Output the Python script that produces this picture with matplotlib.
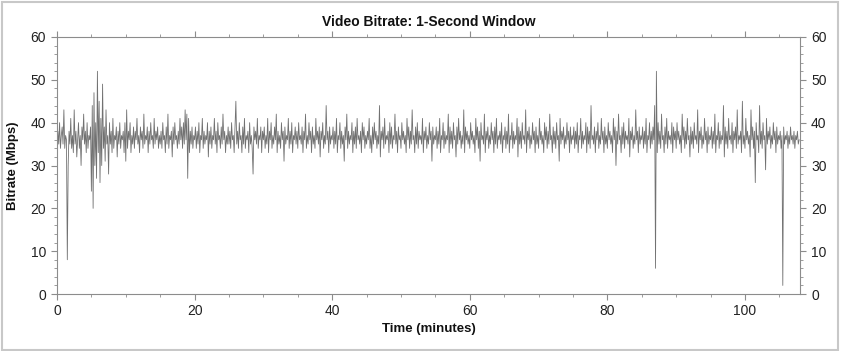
import numpy as np
import matplotlib
matplotlib.use('Agg')
from matplotlib import pyplot as plt
from matplotlib.patches import Rectangle
from matplotlib.ticker import MultipleLocator

# bitrate (Mbps), one value every 0.125 min, rows of 5 minutes
bitrate = [
    36,38,35,40,34,37,39,35,43,34,37,36,8,30,38,35,41,34,37,33,43,35,38,32,36,40,34,37,30,39,36,42,35,38,33,40,34,37,36,39,
    24,44,20,47,30,40,27,52,33,45,26,41,30,49,34,39,31,43,35,37,28,40,35,38,33,41,34,37,36,39,32,38,35,40,34,37,36,38,33,40,
    31,43,34,38,36,40,33,37,35,39,34,38,36,41,35,37,33,39,36,38,34,42,35,37,36,39,33,38,35,40,36,37,34,41,35,38,36,39,34,37,
    35,38,34,40,36,37,33,39,35,42,34,37,36,38,32,39,35,40,36,37,34,38,35,41,36,39,34,40,35,43,36,42,27,41,33,38,35,39,34,37,
    36,39,34,38,35,40,33,37,36,41,34,38,35,37,36,40,32,38,35,39,34,37,36,41,35,38,33,40,36,37,34,39,35,42,36,38,33,37,35,39,
    35,38,34,40,36,37,33,39,45,35,38,34,40,36,37,33,39,35,41,34,37,36,38,33,40,35,37,34,28,39,36,38,35,41,34,37,36,39,33,38,
    36,39,34,37,35,41,33,38,36,40,34,37,35,39,36,42,33,38,35,37,34,40,36,38,31,39,35,37,36,41,34,38,35,40,33,37,36,39,35,38,
    34,40,36,37,35,39,33,38,36,42,34,37,35,40,36,38,33,39,35,37,34,41,36,38,35,39,32,38,36,40,34,37,35,44,36,38,33,39,35,37,
    36,39,34,38,35,41,33,37,36,40,34,38,35,37,31,39,36,42,34,38,35,37,36,40,33,38,35,39,34,41,36,37,35,38,33,40,36,39,34,37,
    35,38,36,41,34,37,33,39,35,40,36,38,34,37,35,44,32,38,36,39,34,41,35,37,36,38,33,40,35,39,34,37,36,42,35,38,33,39,36,37,
    34,40,36,38,35,37,33,41,36,39,34,38,35,43,36,37,33,39,35,40,34,38,36,37,35,41,33,38,36,39,34,37,35,40,36,38,31,39,35,37,
    36,39,34,38,35,41,33,37,36,40,34,38,35,37,36,42,33,39,35,38,34,40,36,37,32,39,35,41,36,38,34,37,35,43,33,39,36,38,35,37,
    34,40,36,38,35,37,33,41,36,39,34,38,31,40,36,37,35,42,33,38,36,39,34,37,35,40,36,38,33,39,35,41,34,37,36,38,35,40,33,37,
    36,39,34,38,35,42,33,37,36,40,34,38,35,37,36,41,32,39,35,38,34,40,36,37,35,43,33,38,36,39,34,37,35,40,36,38,33,39,35,37,
    34,41,36,38,35,37,33,40,36,39,34,38,35,42,36,37,33,39,35,38,34,40,36,37,31,41,35,38,36,39,34,37,35,40,36,38,33,39,35,37,
    36,39,34,38,35,40,33,37,36,41,34,38,35,37,36,40,33,39,35,38,34,44,36,37,35,39,33,38,36,40,34,37,35,41,36,38,33,39,35,37,
    34,40,36,38,35,37,33,41,36,39,30,38,35,42,36,37,33,39,35,40,34,38,36,37,35,41,32,38,36,39,34,37,35,43,36,38,33,39,35,37,
    36,39,34,38,35,41,33,37,36,40,34,38,35,39,36,44,6,52,33,40,35,38,34,42,36,37,33,39,35,41,34,38,36,37,35,40,33,39,36,38,
    34,40,36,38,35,37,33,42,36,39,34,38,35,41,36,37,32,39,35,38,34,40,36,37,35,43,33,38,36,39,34,37,35,41,36,38,33,39,35,37,
    36,39,34,38,35,42,33,37,36,40,34,38,35,37,36,44,32,39,35,38,34,41,36,37,35,40,33,38,36,39,34,43,35,37,36,38,33,45,35,37,
    34,41,36,38,35,37,32,43,36,39,34,38,26,40,36,37,33,44,35,38,34,40,36,37,29,41,35,38,36,39,34,37,35,40,36,38,33,39,35,37,
    36,38,34,37,2,39,35,37,36,38,34,37,35,39,36,37,35,38,34,37,36,38,35,36,
]
step_min = 0.125
time_min = np.arange(len(bitrate)) * step_min

title = 'Video Bitrate: 1-Second Window'
xlabel = 'Time (minutes)'
ylabel = 'Bitrate (Mbps)'

plt.rcParams['font.family'] = ['Liberation Sans', 'DejaVu Sans']

fig = plt.figure(figsize=(8.41, 3.51), dpi=100)
ax = fig.add_axes([57/841, 57/351, 743/841, 257/351])

ax.plot(time_min, bitrate, color='#626262', lw=0.6, alpha=0.9)

ax.set_xlim(0, 108)
ax.set_ylim(0, 60)
ax.xaxis.set_major_locator(MultipleLocator(20))
ax.xaxis.set_minor_locator(MultipleLocator(5))
ax.yaxis.set_major_locator(MultipleLocator(10))
ax.yaxis.set_minor_locator(MultipleLocator(2))

for s in ax.spines.values():
    s.set_color('#8c8c8c')
    s.set_linewidth(0.8)
ax.tick_params(which='both', colors='#8c8c8c', labelcolor='#222222', labelsize=10,
               left=True, right=True, bottom=True, top=False, labelright=True)
ax.tick_params(which='major', length=4)
ax.tick_params(which='minor', length=2.5)
ax.tick_params(axis='x', which='both', top=True, direction='out')
ax.tick_params(axis='x', which='both', pad=3)
ax.tick_params(axis='y', which='both', pad=4)

ax.set_title(title, fontsize=10, fontweight='bold', pad=8, color='#111111')
ax.set_xlabel(xlabel, fontsize=9.5, fontweight='bold', labelpad=4, color='#111111')
ax.set_ylabel(ylabel, fontsize=9.5, fontweight='bold', labelpad=8, color='#111111')

fig.patches.append(Rectangle((0.002, 0.004), 0.994, 0.99, transform=fig.transFigure,
                             fill=False, edgecolor='#c8c8c8', lw=1.5))

fig.savefig('out.png', dpi=100)
